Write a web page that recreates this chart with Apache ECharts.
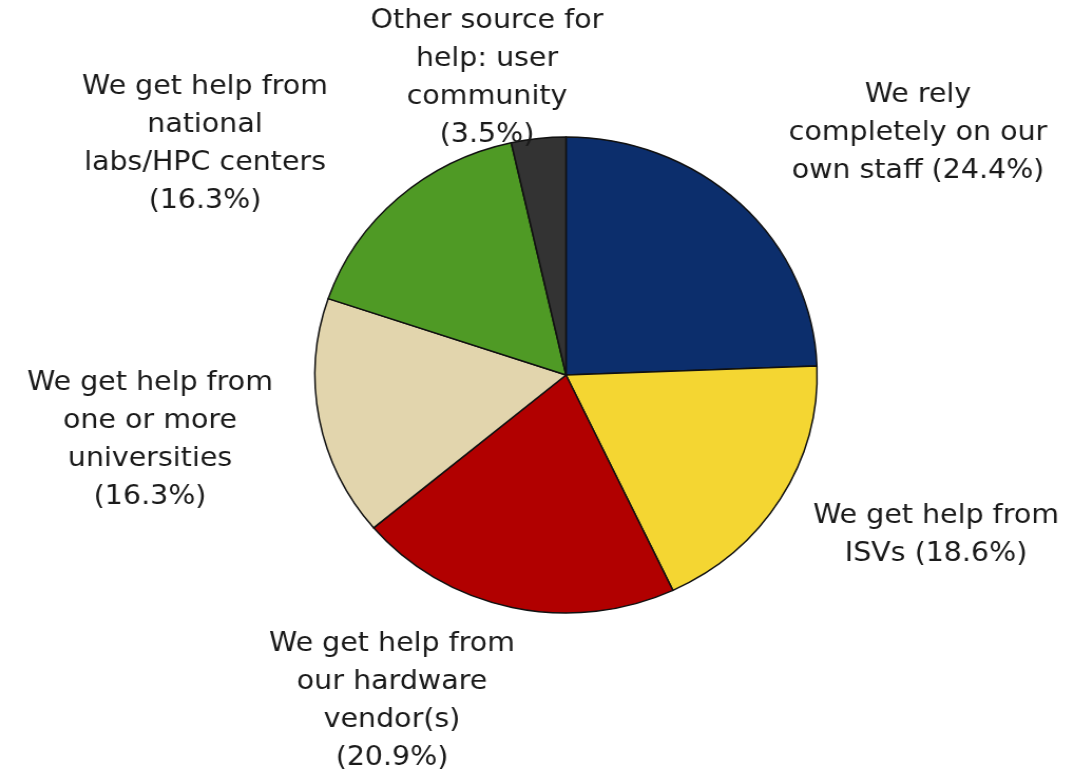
<!DOCTYPE html>
<html>
<head>
<meta charset="utf-8">
<script src="https://cdn.jsdelivr.net/npm/echarts@6/dist/echarts.min.js"></script>
<style>
  html, body { margin: 0; padding: 0; background: #ffffff; overflow: hidden; }
  #wrap { width: 1076px; height: 778px; overflow: hidden; }
  #chart { width: 1020px; height: 778px; transform: scaleX(1.055); transform-origin: 0 0; }
</style>
</head>
<body>
<div id="wrap"><div id="chart"></div></div>
<script>
// Sources of help, clockwise from 12 o'clock
const categories = [
  'We rely completely on our own staff',
  'We get help from ISVs',
  'We get help from our hardware vendor(s)',
  'We get help from one or more universities',
  'We get help from national labs/HPC centers',
  'Other source for help: user community'
];
// Share of respondents, in percent
const shares = [24.4, 18.6, 20.9, 16.3, 16.3, 3.5];
// Wrapped label text, with the separator placed before the percentage
const labelText = [
  'We rely\ncompletely on our\nown staff',
  'We get help from\nISVs',
  'We get help from\nour hardware\nvendor(s)',
  'We get help from\none or more\nuniversities',
  'We get help from\nnational\nlabs/HPC centers',
  'Other source for\nhelp: user\ncommunity'
];
const pctSeparator = [' ', ' ', '\n', '\n', '\n', '\n'];
const sliceColors = ['#0c2e6c', '#f4d632', '#b10000', '#e2d5ad', '#4f9a25', '#333333'];

// Horizontal stretch applied to the chart element by CSS
const SX = 1.055;
// Label block centres in page pixels
const labelAnchors = [
  [918, 133], [936, 535], [392, 701], [150, 440], [205, 144], [487, 78]
];

const chart = echarts.init(document.getElementById('chart'), null, { renderer: 'canvas' });

chart.setOption({
  backgroundColor: '#ffffff',
  animation: false,
  series: [{
    type: 'pie',
    center: [566 / SX, 375],
    radius: 238,
    startAngle: 90,
    clockwise: true,
    avoidLabelOverlap: false,
    itemStyle: { borderColor: '#111111', borderWidth: 1.5 },
    label: {
      show: true,
      position: 'outside',
      color: '#1a1a1a',
      fontFamily: 'DejaVu Sans, Verdana, sans-serif',
      fontSize: 27,
      lineHeight: 38,
      align: 'center',
      formatter: p => labelText[p.dataIndex] + pctSeparator[p.dataIndex] +
        '(' + p.value.toFixed(1) + '%)'
    },
    labelLine: { show: false },
    labelLayout: p => ({
      x: labelAnchors[p.dataIndex][0] / SX,
      y: labelAnchors[p.dataIndex][1],
      align: 'center',
      verticalAlign: 'middle'
    }),
    emphasis: { disabled: true },
    data: categories.map((name, i) => ({
      name: name,
      value: shares[i],
      itemStyle: { color: sliceColors[i] }
    }))
  }]
});
</script>
</body>
</html>
